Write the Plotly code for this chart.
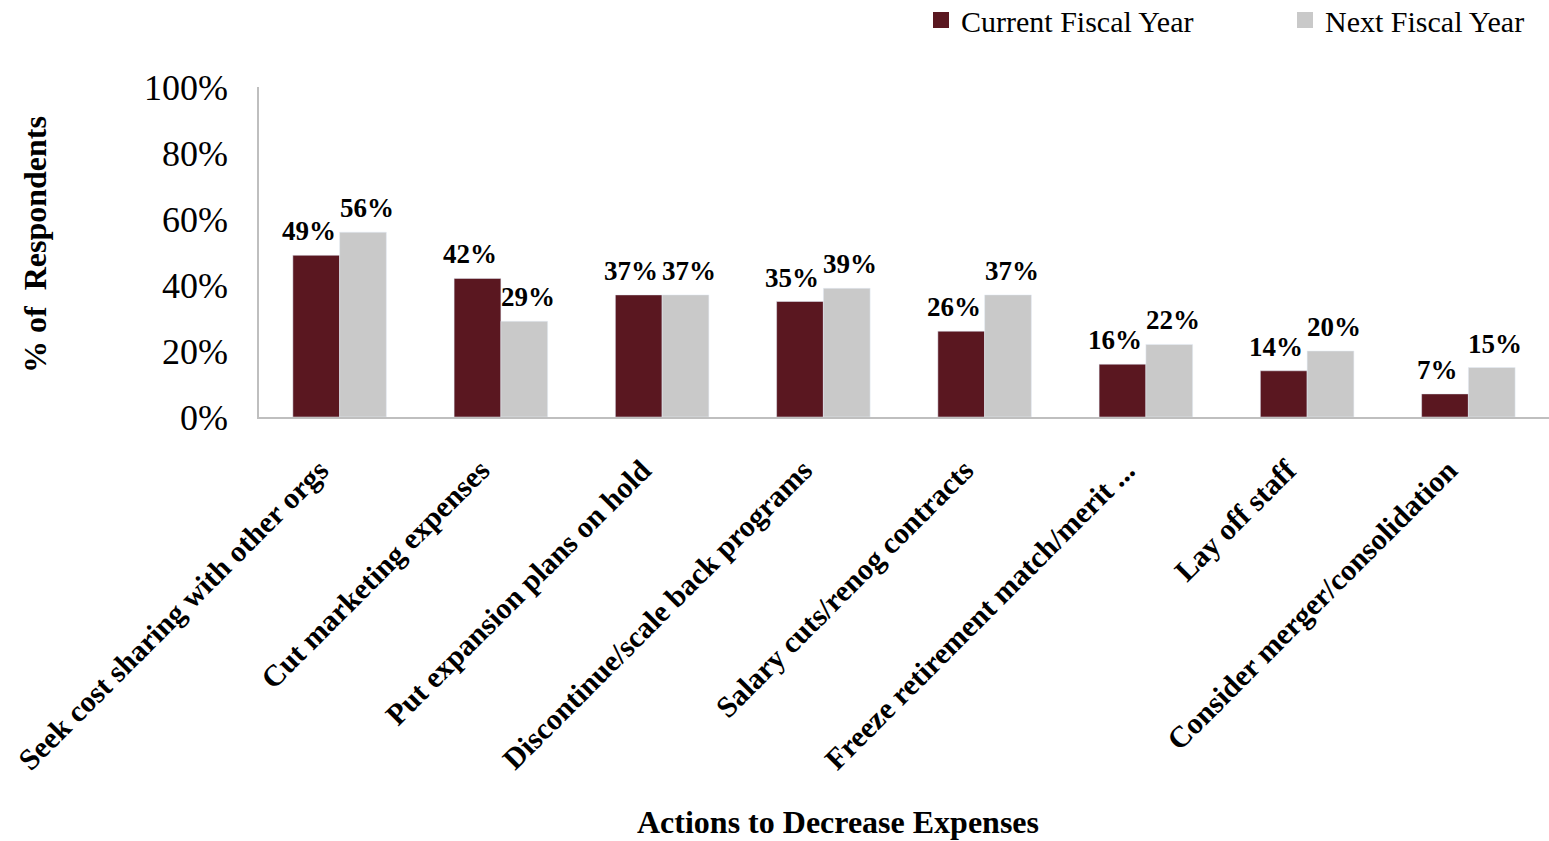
import plotly.graph_objects as go

categories = [
    "Seek cost sharing with other orgs",
    "Cut marketing expenses",
    "Put expansion plans on hold",
    "Discontinue/scale back programs",
    "Salary cuts/renog contracts",
    "Freeze retirement match/merit ...",
    "Lay off staff",
    "Consider merger/consolidation",
]
current_fy = [49, 42, 37, 35, 26, 16, 14, 7]
next_fy = [56, 29, 37, 39, 37, 22, 20, 15]
series_names = ["Current Fiscal Year", "Next Fiscal Year"]
series_colors = ["#5a1720", "#c9c9c9"]

SERIF = "Liberation Serif, Times New Roman, serif"

W, H = 1549, 841
L, R, T, B = 259, 0, 87, 424
PW, PH = W - L - R, H - T - B

fig = go.Figure()
for name, vals, col in zip(series_names, [current_fy, next_fy], series_colors):
    fig.add_trace(go.Bar(
        name=name, x=categories, y=vals,
        marker=dict(color=col),
        cliponaxis=False, showlegend=False,
    ))

# value labels (offset a little outward from each bar's centre, as in the original)
label_shift = [-31, 27]
annotations = []
for vals, xs in zip([current_fy, next_fy], label_shift):
    for c, v in zip(categories, vals):
        annotations.append(dict(
            x=c, y=v, xref="x", yref="y", text=f"{v}%",
            xshift=xs, yshift=7, xanchor="center", yanchor="bottom",
            showarrow=False,
            font=dict(family=SERIF, size=27, color="black", weight="bold"),
        ))

# legend entries with larger square swatches, each in its own legend box
legend_x = [921, 1285]
for i, (name, col) in enumerate(zip(series_names, series_colors)):
    fig.add_trace(go.Scatter(
        name=name, x=[categories[0]], y=[None], mode="markers",
        marker=dict(symbol="square", size=17, color=col),
        showlegend=True, hoverinfo="skip",
        legend="legend" if i == 0 else "legend2",
    ))

legend_common = dict(
    orientation="h", xanchor="left", yanchor="middle",
    y=1 + (T - 20) / PH,
    font=dict(family=SERIF, size=30, color="black"),
    itemwidth=30, bgcolor="rgba(0,0,0,0)",
)

annotations += [
    dict(text="Actions to Decrease Expenses", xref="paper", yref="paper",
         x=(838 - L) / PW, y=-(822 - (T + PH)) / PH, xanchor="center", yanchor="middle",
         showarrow=False,
         font=dict(family=SERIF, size=32, color="black", weight="bold")),
    dict(text="% of  Respondents", xref="paper", yref="paper",
         x=-(L - 35) / PW, y=((T + PH) - 245) / PH, xanchor="center", yanchor="middle",
         textangle=-90, showarrow=False,
         font=dict(family=SERIF, size=32, color="black", weight="bold")),
]

fig.update_layout(
    width=W, height=H,
    paper_bgcolor="white", plot_bgcolor="white",
    barmode="group", bargap=0.42, bargroupgap=0,
    margin=dict(l=L, r=R, t=T, b=B, autoexpand=False),
    font=dict(family=SERIF, color="black"),
    legend=dict(x=(legend_x[0] - L) / PW, **legend_common),
    legend2=dict(x=(legend_x[1] - L) / PW, **legend_common),
    xaxis=dict(
        tickangle=-45,
        tickfont=dict(family=SERIF, size=30, color="black", weight="bold"),
        ticklabelstandoff=22, ticklabelshift=-20,
        showline=True, linecolor="#bfbfbf", linewidth=1.5,
        ticks="", showgrid=False, automargin=False,
    ),
    yaxis=dict(
        range=[0, 100], dtick=20, ticksuffix="%",
        tickfont=dict(family=SERIF, size=36, color="black"),
        ticklabelstandoff=22,
        showline=True, linecolor="#bfbfbf", linewidth=1.5,
        showgrid=False, zeroline=False, ticks="", automargin=False,
    ),
    annotations=annotations,
)

fig.write_html(
    "out.html",
    config={"displayModeBar": False},
    post_script="document.body.style.margin='0';document.body.style.overflow='hidden';",
)
